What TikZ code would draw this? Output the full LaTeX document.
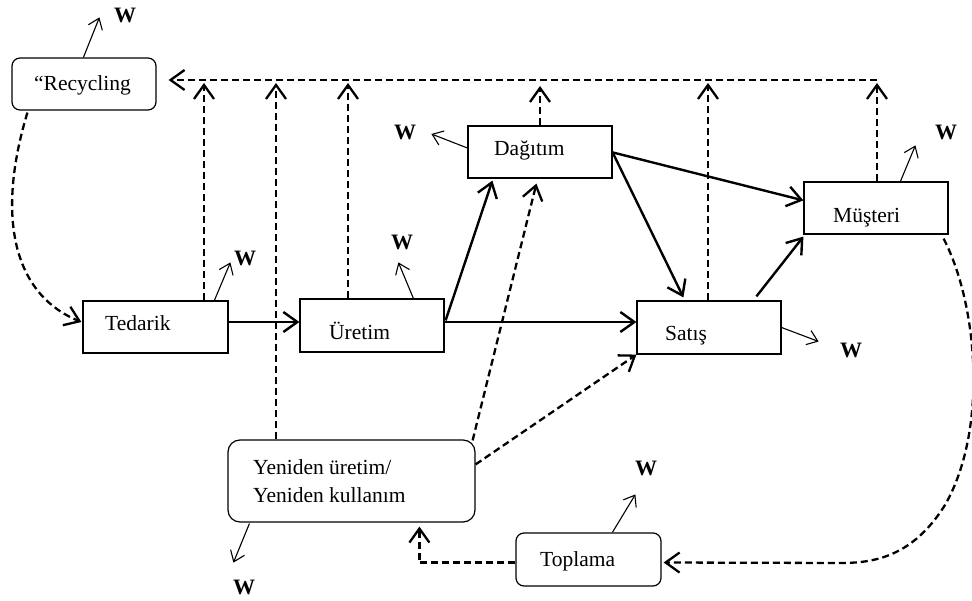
\documentclass[tikz,border=0pt]{standalone}
\usepackage{fontspec}
\setmainfont{Liberation Serif}
\usetikzlibrary{arrows.meta,calc}
\begin{document}
\begin{tikzpicture}[x=1pt,y=-1pt,
  box/.style={draw, line width=1.2pt, rectangle, minimum width=144pt, minimum height=52pt, inner sep=0pt},
  rbox/.style={box, rounded corners=8pt},
  lbl/.style={font=\fontsize{21.5}{25}\selectfont, inner sep=0pt, anchor=base west},
  wl/.style={font=\fontsize{22}{25}\selectfont\bfseries, inner sep=0pt},
  flow/.style={line width=2.4pt, -{Straight Barb[length=14pt,width=20pt]}},
  dflow/.style={line width=2.3pt, dash pattern=on 7pt off 4pt, -{Straight Barb[length=14pt,width=20pt]}},
  warr/.style={line width=1.1pt, -{Straight Barb[length=10pt,width=15pt]}}
]
\useasboundingbox (0,0) rectangle (972,601);

% boxes
\node[rbox] (rec) at (84,84) {};
\node[box, minimum width=145pt] (ted) at (155.5,327) {};
\node[box, minimum height=53pt] (ure) at (372,325.5) {};
\node[box] (dag) at (540,152) {};
\node[box, minimum height=53pt] (sat) at (709,327.5) {};
\node[box] (mus) at (876,208) {};
\node[rbox, rounded corners=12pt, minimum width=247pt, minimum height=82pt] (yen) at (351.5,481) {};
\node[rbox, minimum width=145pt, minimum height=53pt] (top) at (588.5,559.5) {};

% texts
\node[lbl] (trec) at (34,91) {“Recycling};
\node[lbl] (tted) at (105,331) {Tedarik};
\node[lbl] (ture) at (329,340) {Üretim};
\node[lbl] (tdag) at (494,156) {Dağıtım};
\node[lbl] (tsat) at (665,341) {Satış};
\node[lbl] (tmus) at (833,223) {Müşteri};
\node[lbl] (tyen1) at (253,474) {Yeniden üretim/};
\node[lbl] (tyen2) at (253,502) {Yeniden kullanım};
\node[lbl] (ttop) at (540,566) {Toplama};

% W labels
\node[wl] (w1) at (125,15) {W};
\node[wl] (w2) at (405,132) {W};
\node[wl] (w3) at (946,132) {W};
\node[wl] (w4) at (245,258) {W};
\node[wl] (w5) at (402,242) {W};
\node[wl] (w6) at (851,350) {W};
\node[wl] (w7) at (244,587) {W};
\node[wl] (w8) at (646,468) {W};

% bus line
\coordinate (busR) at (877,80);
\coordinate (busL) at ($(rec.east)+(12,-4)$);
\draw[dflow] (busR) -- (busL);
\coordinate (b1) at (204,83);
\coordinate (b2) at (276,83);
\coordinate (b3) at (348,83);
\coordinate (b4) at (540,86);
\coordinate (b5) at (708,83);
\coordinate (b6) at (877,83);
\draw[dflow] (ted.north -| b1) -- (b1);
\draw[dflow] (yen.north -| b2) -- (b2);
\draw[dflow] (ure.north -| b3) -- (b3);
\draw[dflow] (dag.north -| b4) -- (b4);
\draw[dflow] (sat.north -| b5) -- (b5);
\draw[dflow] (mus.north -| b6) -- (b6);

% solid flows
\draw[flow] ($(ted.east)+(0,-5)$) -- ($(ure.west)+(0,-3.5)$);
\draw[flow] ($(ure.east)+(0,-3.5)$) -- ($(sat.west)+(0,-5.5)$);
\draw[flow] ($(ure.north east)+(1,22)$) -- ($(dag.south west)+(25,2)$);
\draw[flow] ($(dag.north east)+(0,27)$) -- ($(sat.north west)+(47,-3)$);
\draw[flow] ($(dag.north east)+(0,27)$) -- ($(mus.north west)+(0,19)$);
\draw[flow] ($(sat.north west)+(120,-4)$) -- ($(mus.south west)+(0,2)$);

% dashed flows
\draw[dflow] ($(yen.north east)+(-3,1)$) -- ($(dag.south west)+(69,5)$);
\draw[dflow] ($(yen.north east)+(0,25)$) -- (sat.south west);
\draw[dflow] ($(top.west)+(0,3)$) -| ($(yen.south west)+(192,4)$);
\draw[dflow] ($(mus.south east)+(-5,4)$) .. controls (978,305) and (988,430) .. (945,505)
   .. controls (912,558) and (872,563) .. (840,563) -- ($(top.east)+(2,3)$);
\draw[dflow] ($(rec.south west)+(16,2)$) .. controls (-5,220) and (15,295) .. ($(ted.west)+(-1,-5)$);

% W arrows
\draw[warr] ($(rec.north west)+(72,0)$) -- ++(16,-40);
\draw[warr] ($(dag.west)+(0,-4)$) -- ++(-36,-14);
\draw[warr] ($(mus.north west)+(97,0)$) -- ++(15,-36);
\draw[warr] ($(ted.north west)+(132,0)$) -- ++(16,-38);
\draw[warr] ($(ure.north west)+(114,0)$) -- ++(-15,-36);
\draw[warr] (sat.east) -- ++(37,14);
\draw[warr] ($(yen.south west)+(22,1)$) -- ++(-16,39);
\draw[warr] ($(top.north west)+(97,0)$) -- ++(23,-38);
\end{tikzpicture}
\end{document}
